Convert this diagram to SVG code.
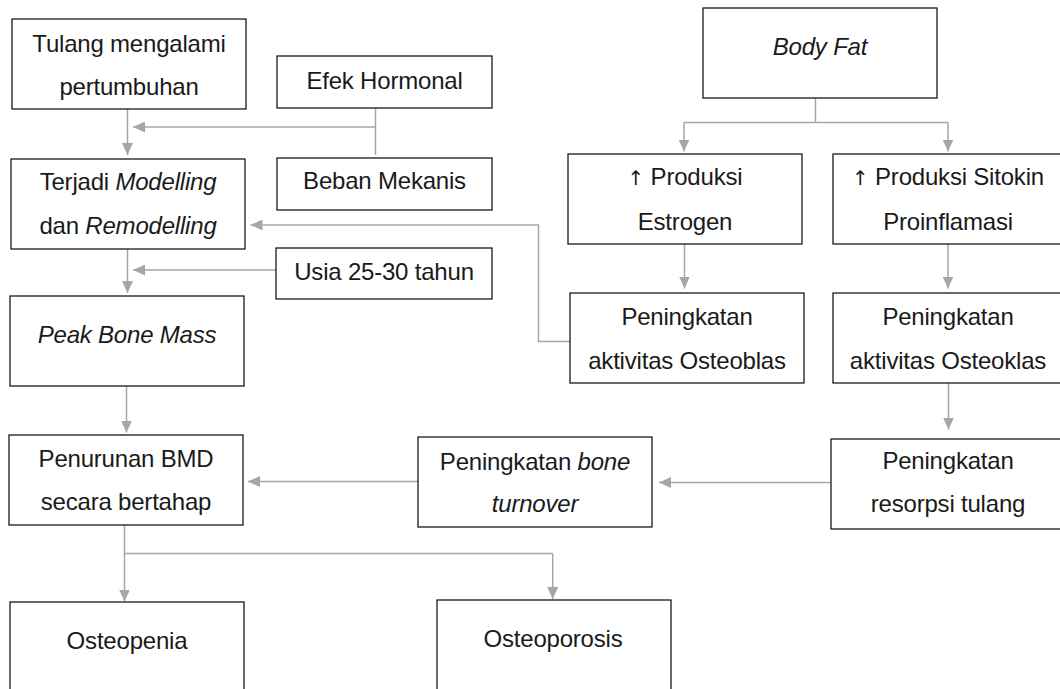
<svg xmlns="http://www.w3.org/2000/svg" width="1060" height="689" viewBox="0 0 1060 689">
<style>
.box{fill:#fff;stroke:#1a1a1a;stroke-width:1.3}
.t{font-family:"Liberation Sans",Arial,sans-serif;font-size:24px;letter-spacing:-0.2px;fill:#1a1a1a;text-anchor:middle}
.i{font-style:italic}
.ar{font-family:"DejaVu Sans",sans-serif;font-size:20px;fill:#1a1a1a}
.c{fill:none;stroke:#a6a6a6;stroke-width:1.5}
</style>
<defs>
<marker id="ah" markerUnits="userSpaceOnUse" markerWidth="12" markerHeight="11" refX="12" refY="5.5" orient="auto">
<path d="M0,0 L12,5.5 L0,11 z" fill="#a6a6a6"/>
</marker>
</defs>
<rect width="1060" height="689" fill="#fff"/>
<g id="connectors">
<line class="c" x1="127.5" y1="109" x2="127.5" y2="155" marker-end="url(#ah)"/>
<line class="c" x1="375.5" y1="108" x2="375.5" y2="155"/>
<line class="c" x1="375.5" y1="127" x2="133" y2="127" marker-end="url(#ah)"/>
<line class="c" x1="127.5" y1="249" x2="127.5" y2="293" marker-end="url(#ah)"/>
<line class="c" x1="276" y1="270" x2="133" y2="270" marker-end="url(#ah)"/>
<line class="c" x1="126.5" y1="386" x2="126.5" y2="432.5" marker-end="url(#ah)"/>
<line class="c" x1="418" y1="481.5" x2="248" y2="481.5" marker-end="url(#ah)"/>
<line class="c" x1="831" y1="482.5" x2="659" y2="482.5" marker-end="url(#ah)"/>
<polyline class="c" points="570,341.5 538.5,341.5 538.5,225 250.5,225" marker-end="url(#ah)"/>
<path class="c" d="M815.5,98 V122.5 M684,122.5 H948"/>
<line class="c" x1="684" y1="122.5" x2="684" y2="151.5" marker-end="url(#ah)"/>
<line class="c" x1="948" y1="122.5" x2="948" y2="151.5" marker-end="url(#ah)"/>
<line class="c" x1="684.5" y1="244" x2="684.5" y2="288.5" marker-end="url(#ah)"/>
<line class="c" x1="948" y1="244" x2="948" y2="288.5" marker-end="url(#ah)"/>
<line class="c" x1="948.5" y1="383" x2="948.5" y2="429.5" marker-end="url(#ah)"/>
<path class="c" d="M124.5,525 V553.5 H552.7"/>
<line class="c" x1="124.5" y1="553.5" x2="124.5" y2="601.5" marker-end="url(#ah)"/>
<line class="c" x1="552.7" y1="553.5" x2="552.7" y2="599" marker-end="url(#ah)"/>
</g>
<g id="tulang"><rect class="box" x="12" y="19" width="234" height="90"/><text class="t" x="129" y="51.5">Tulang mengalami</text><text class="t" x="129" y="94.5">pertumbuhan</text></g>
<g id="efek"><rect class="box" x="277" y="56" width="215" height="52"/><text class="t" x="384.5" y="88.5">Efek Hormonal</text></g>
<g id="terjadi"><rect class="box" x="11" y="159" width="234" height="90"/><text class="t" x="128" y="190">Terjadi <tspan class="i">Modelling</tspan></text><text class="t" x="128" y="233.5">dan <tspan class="i">Remodelling</tspan></text></g>
<g id="beban"><rect class="box" x="277" y="158" width="215" height="52"/><text class="t" x="384.5" y="189">Beban Mekanis</text></g>
<g id="usia"><rect class="box" x="276" y="248" width="216" height="51"/><text class="t" x="384" y="279.5">Usia 25-30 tahun</text></g>
<g id="peak"><rect class="box" x="10" y="296" width="234" height="90"/><text class="t i" x="127" y="342.5">Peak Bone Mass</text></g>
<g id="penurunan"><rect class="box" x="9" y="435" width="234" height="90"/><text class="t" x="126" y="466.5">Penurunan BMD</text><text class="t" x="126" y="510">secara bertahap</text></g>
<g id="osteopenia"><rect class="box" x="10" y="602" width="234" height="100"/><text class="t" x="127" y="649">Osteopenia</text></g>
<g id="osteoporosis"><rect class="box" x="437" y="600" width="234" height="100"/><text class="t" x="553" y="647">Osteoporosis</text></g>
<g id="bodyfat"><rect class="box" x="703" y="8" width="234" height="90"/><text class="t i" x="820" y="55">Body Fat</text></g>
<g id="estrogen"><rect class="box" x="568" y="154" width="234" height="90"/><text class="t" x="685" y="185"><tspan class="ar">↑</tspan> Produksi</text><text class="t" x="685" y="230">Estrogen</text></g>
<g id="sitokin"><rect class="box" x="833" y="154" width="232" height="90"/><text class="t" x="948" y="185"><tspan class="ar">↑</tspan> Produksi Sitokin</text><text class="t" x="948" y="230">Proinflamasi</text></g>
<g id="osteoblas"><rect class="box" x="570" y="293" width="234" height="90"/><text class="t" x="687" y="325">Peningkatan</text><text class="t" x="687" y="368.5">aktivitas Osteoblas</text></g>
<g id="osteoklas"><rect class="box" x="833" y="293" width="232" height="90"/><text class="t" x="948" y="325">Peningkatan</text><text class="t" x="948" y="368.5">aktivitas Osteoklas</text></g>
<g id="turnover"><rect class="box" x="418" y="437" width="234" height="90"/><text class="t" x="535" y="470">Peningkatan <tspan class="i">bone</tspan></text><text class="t i" x="535" y="512">turnover</text></g>
<g id="resorpsi"><rect class="box" x="831" y="439" width="234" height="90"/><text class="t" x="948" y="468.5">Peningkatan</text><text class="t" x="948" y="512">resorpsi tulang</text></g>
</svg>
